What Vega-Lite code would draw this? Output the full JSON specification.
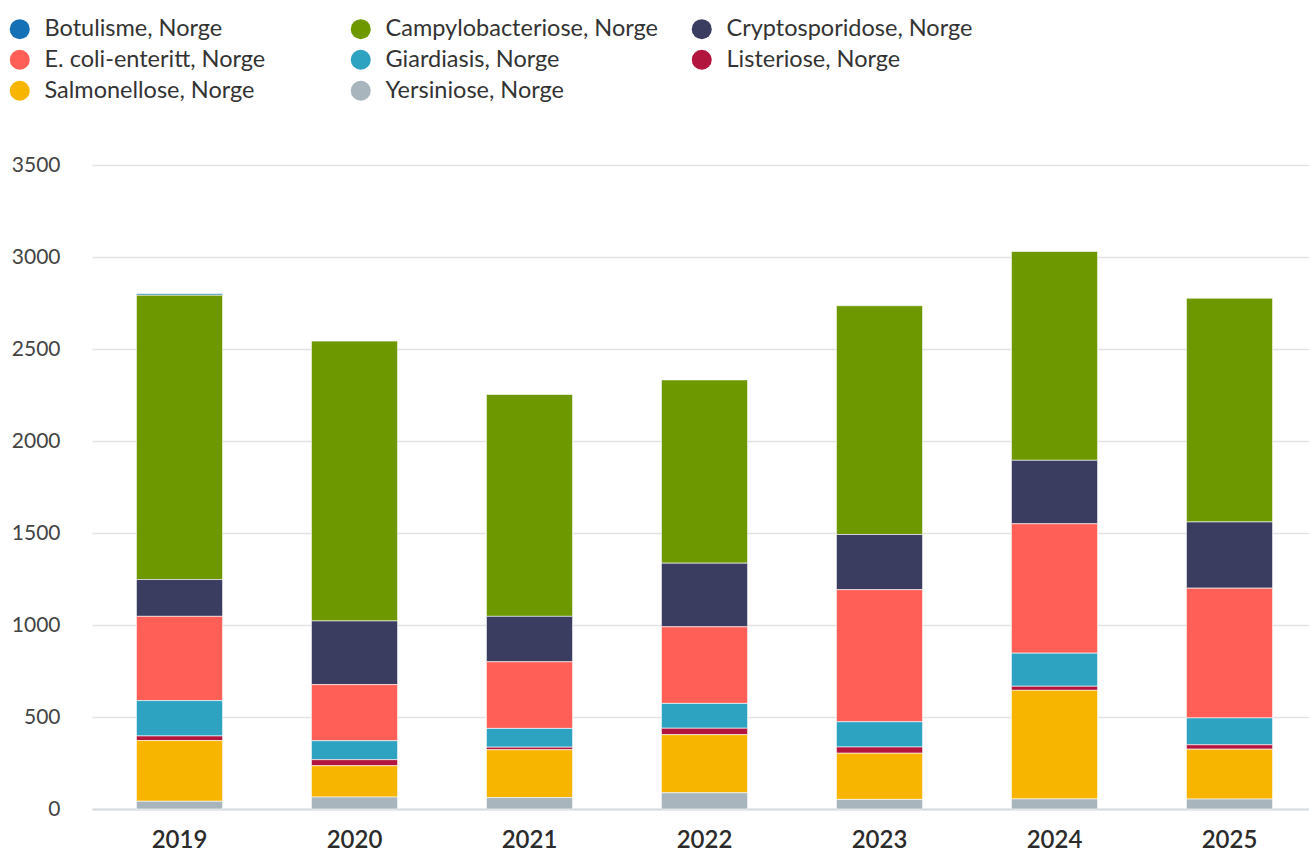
{
  "$schema": "https://vega.github.io/schema/vega-lite/v6.json",
  "width": 1225,
  "height": 644,
  "autosize": {"type": "none"},
  "padding": {"left": 92, "top": 165, "right": 0, "bottom": 42},
  "background": "#ffffff",
  "config": {
    "font": "Lato",
    "view": {"stroke": null}
  },
  "data": {
    "values": [
      {"year": "2019", "disease": "Botulisme, Norge", "cases": 8},
      {"year": "2019", "disease": "Campylobacteriose, Norge", "cases": 1545},
      {"year": "2019", "disease": "Cryptosporidose, Norge", "cases": 200},
      {"year": "2019", "disease": "E. coli-enteritt, Norge", "cases": 458},
      {"year": "2019", "disease": "Giardiasis, Norge", "cases": 192},
      {"year": "2019", "disease": "Listeriose, Norge", "cases": 25},
      {"year": "2019", "disease": "Salmonellose, Norge", "cases": 330},
      {"year": "2019", "disease": "Yersiniose, Norge", "cases": 42},
      {"year": "2020", "disease": "Botulisme, Norge", "cases": 0},
      {"year": "2020", "disease": "Campylobacteriose, Norge", "cases": 1521},
      {"year": "2020", "disease": "Cryptosporidose, Norge", "cases": 346},
      {"year": "2020", "disease": "E. coli-enteritt, Norge", "cases": 305},
      {"year": "2020", "disease": "Giardiasis, Norge", "cases": 103},
      {"year": "2020", "disease": "Listeriose, Norge", "cases": 33},
      {"year": "2020", "disease": "Salmonellose, Norge", "cases": 170},
      {"year": "2020", "disease": "Yersiniose, Norge", "cases": 65},
      {"year": "2021", "disease": "Botulisme, Norge", "cases": 0},
      {"year": "2021", "disease": "Campylobacteriose, Norge", "cases": 1206},
      {"year": "2021", "disease": "Cryptosporidose, Norge", "cases": 247},
      {"year": "2021", "disease": "E. coli-enteritt, Norge", "cases": 362},
      {"year": "2021", "disease": "Giardiasis, Norge", "cases": 102},
      {"year": "2021", "disease": "Listeriose, Norge", "cases": 14},
      {"year": "2021", "disease": "Salmonellose, Norge", "cases": 260},
      {"year": "2021", "disease": "Yersiniose, Norge", "cases": 62},
      {"year": "2022", "disease": "Botulisme, Norge", "cases": 0},
      {"year": "2022", "disease": "Campylobacteriose, Norge", "cases": 996},
      {"year": "2022", "disease": "Cryptosporidose, Norge", "cases": 346},
      {"year": "2022", "disease": "E. coli-enteritt, Norge", "cases": 416},
      {"year": "2022", "disease": "Giardiasis, Norge", "cases": 135},
      {"year": "2022", "disease": "Listeriose, Norge", "cases": 35},
      {"year": "2022", "disease": "Salmonellose, Norge", "cases": 316},
      {"year": "2022", "disease": "Yersiniose, Norge", "cases": 88},
      {"year": "2023", "disease": "Botulisme, Norge", "cases": 0},
      {"year": "2023", "disease": "Campylobacteriose, Norge", "cases": 1243},
      {"year": "2023", "disease": "Cryptosporidose, Norge", "cases": 300},
      {"year": "2023", "disease": "E. coli-enteritt, Norge", "cases": 718},
      {"year": "2023", "disease": "Giardiasis, Norge", "cases": 137},
      {"year": "2023", "disease": "Listeriose, Norge", "cases": 34},
      {"year": "2023", "disease": "Salmonellose, Norge", "cases": 251},
      {"year": "2023", "disease": "Yersiniose, Norge", "cases": 52},
      {"year": "2024", "disease": "Botulisme, Norge", "cases": 0},
      {"year": "2024", "disease": "Campylobacteriose, Norge", "cases": 1135},
      {"year": "2024", "disease": "Cryptosporidose, Norge", "cases": 345},
      {"year": "2024", "disease": "E. coli-enteritt, Norge", "cases": 703},
      {"year": "2024", "disease": "Giardiasis, Norge", "cases": 180},
      {"year": "2024", "disease": "Listeriose, Norge", "cases": 22},
      {"year": "2024", "disease": "Salmonellose, Norge", "cases": 590},
      {"year": "2024", "disease": "Yersiniose, Norge", "cases": 55},
      {"year": "2025", "disease": "Botulisme, Norge", "cases": 0},
      {"year": "2025", "disease": "Campylobacteriose, Norge", "cases": 1216},
      {"year": "2025", "disease": "Cryptosporidose, Norge", "cases": 360},
      {"year": "2025", "disease": "E. coli-enteritt, Norge", "cases": 705},
      {"year": "2025", "disease": "Giardiasis, Norge", "cases": 146},
      {"year": "2025", "disease": "Listeriose, Norge", "cases": 24},
      {"year": "2025", "disease": "Salmonellose, Norge", "cases": 271},
      {"year": "2025", "disease": "Yersiniose, Norge", "cases": 54}
    ]
  },
  "mark": {"type": "bar", "stroke": "#ffffff", "strokeWidth": 0.6},
  "encoding": {
    "x": {
      "field": "year",
      "type": "nominal",
      "scale": {"paddingInner": 0.508, "paddingOuter": 0.254},
      "axis": {
        "title": null,
        "labelAngle": 0,
        "labelFontSize": 24,
        "labelColor": "#2b2b2b",
        "labelFontWeight": 600,
        "labelPadding": 19,
        "ticks": false,
        "domainColor": "#d5d9e0",
        "domainWidth": 2,
        "grid": false
      }
    },
    "y": {
      "field": "cases",
      "type": "quantitative",
      "stack": "zero",
      "scale": {"domain": [0, 3500], "nice": false},
      "axis": {
        "title": null,
        "values": [0, 500, 1000, 1500, 2000, 2500, 3000, 3500],
        "format": "d",
        "labelFontSize": 21,
        "labelColor": "#444444",
        "labelPadding": 32,
        "ticks": false,
        "tickSize": 0,
        "domain": false,
        "gridColor": "#e3e3e3",
        "gridWidth": 1.5
      }
    },
    "color": {
      "field": "disease",
      "type": "nominal",
      "scale": {
        "domain": ["Botulisme, Norge", "Campylobacteriose, Norge", "Cryptosporidose, Norge", "E. coli-enteritt, Norge", "Giardiasis, Norge", "Listeriose, Norge", "Salmonellose, Norge", "Yersiniose, Norge"],
        "range": ["#1670b5", "#6e9800", "#3a3c60", "#ff5f57", "#2ea2c1", "#b2163f", "#f7b500", "#a8b5bc"]
      },
      "legend": {
        "title": null,
        "orient": "none",
        "legendX": -84,
        "legendY": -148,
        "direction": "horizontal",
        "columns": 3,
        "gridAlign": "all",
        "symbolType": "circle",
        "symbolSize": 400,
        "symbolStrokeWidth": 0,
        "labelFontSize": 23.5,
        "labelColor": "#333333",
        "labelOffset": 13,
        "labelLimit": 400,
        "rowPadding": 6,
        "columnPadding": 32
      }
    },
    "order": {"field": "disease", "sort": "descending"}
  }
}
